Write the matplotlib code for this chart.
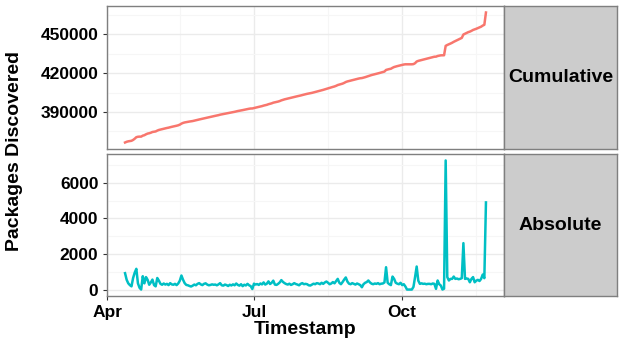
import numpy as np
import pandas as pd
import matplotlib
matplotlib.use('Agg')
import matplotlib.pyplot as plt
import matplotlib.dates as mdates
from matplotlib.ticker import AutoMinorLocator

# ==========================================
# data, daily from 2014-04-12
# ==========================================
start_date = '2014-04-12'
start_total = 365500
last_total = 467000   # the final cumulative point sits higher than the last daily count

absolute = [
    920, 550, 350, 250, 180, 650, 950, 1165, 350, 100,
    0, 750, 350, 700, 550, 270, 400, 560, 250, 180,
    650, 500, 320, 270, 340, 280, 320, 250, 360, 290,
    270, 320, 250, 340, 500, 790, 550, 360, 260, 240,
    200, 170, 220, 280, 240, 320, 360, 290, 250, 320,
    350, 280, 240, 260, 290, 270, 280, 240, 290, 360,
    240, 220, 280, 250, 200, 270, 230, 290, 240, 340,
    260, 220, 300, 190, 270, 230, 320, 240, 190, 30,
    330, 280, 310, 260, 340, 290, 400, 280, 330, 460,
    310, 380, 500, 280, 260, 320, 400, 530, 430, 360,
    310, 280, 330, 260, 300, 360, 310, 280, 240, 320,
    360, 300, 320, 300, 240, 225, 280, 330, 300, 360,
    340, 300, 380, 320, 400, 450, 380, 300, 340, 420,
    350, 480, 600, 380, 300, 420, 560, 680, 450, 330,
    300, 360, 320, 280, 340, 300, 250, 130, 300, 380,
    420, 510, 400, 330, 300, 340, 320, 360, 300, 330,
    340, 400, 1255, 380, 300, 250, 730, 600, 380, 330,
    300, 380, 250, 300, 170, 0, 0, 0, 0, 150,
    700, 1295, 500, 320, 350, 320, 330, 300, 320, 320,
    300, 340, 320, 40, 510, 300, 225, 0, 50, 7260,
    700, 510, 600, 600, 730, 600, 620, 580, 600, 640,
    2610, 600, 620, 600, 410, 600, 700, 410, 500, 545,
    480, 600, 845, 640, 4900,
]

panels = ['Cumulative', 'Absolute']
colors = ['#F8766D', '#00BFC4']

dates = pd.date_range(start_date, periods=len(absolute), freq='D')
cumulative = start_total + np.cumsum(absolute)
cumulative[-1] = last_total
series = [cumulative, np.array(absolute)]

# ==========================================
# layout in pixels (619 x 345)
# ==========================================
W, H = 619, 345
plt.rcParams['font.family'] = ['Liberation Sans', 'DejaVu Sans']
plt.rcParams['font.weight'] = 'bold'

fig = plt.figure(figsize=(W / 100, H / 100), dpi=100)

def rect(l, t, r, b):
    return [l / W, 1 - b / H, (r - l) / W, (b - t) / H]

ax_top = fig.add_axes(rect(107, 6, 504, 149))
ax_bot = fig.add_axes(rect(107, 154, 504, 296), sharex=ax_top)
strip_top = fig.add_axes(rect(504, 6, 617, 149))
strip_bot = fig.add_axes(rect(504, 154, 617, 296))

for ax, y, c in zip([ax_top, ax_bot], series, colors):
    ax.plot(dates, y, color=c, lw=1.8, solid_joinstyle='round')
    ax.set_facecolor('white')
    ax.set_axisbelow(True)
    ax.grid(which='major', color='#EBEBEB', lw=1.0)
    ax.grid(which='minor', color='#F6F6F6', lw=0.8)
    for sp in ax.spines.values():
        sp.set_color('#7F7F7F')
        sp.set_linewidth(1.0)
    ax.tick_params(axis='both', which='major', length=3, width=0.8,
                   color='#333333', labelsize=12.5, labelcolor='black')
    ax.tick_params(axis='y', which='major', pad=3.2)
    ax.tick_params(axis='x', which='major', pad=3.5)
    ax.tick_params(axis='both', which='minor', length=0)
    ax.yaxis.set_minor_locator(AutoMinorLocator(2))

ax_top.set_yticks([390000, 420000, 450000])
ax_bot.set_yticks([0, 2000, 4000, 6000])

ax_bot.xaxis.set_major_locator(mdates.MonthLocator(bymonth=[1, 4, 7, 10]))
ax_bot.xaxis.set_major_formatter(mdates.DateFormatter('%b'))
ax_bot.xaxis.set_minor_locator(mdates.MonthLocator(bymonth=[2, 5, 8, 11], bymonthday=16))
ax_top.tick_params(axis='x', which='both', length=0, labelbottom=False)

for s, name in zip([strip_top, strip_bot], panels):
    s.set_facecolor('#CCCCCC')
    s.set_xticks([])
    s.set_yticks([])
    for sp in s.spines.values():
        sp.set_color('#7F7F7F')
        sp.set_linewidth(1.0)
    s.text(0.5, 0.5, name, ha='center', va='center', fontsize=14,
           fontweight='bold', transform=s.transAxes)

fig.text(15 / W, 1 - 151 / H, 'Packages Discovered', rotation=90,
         ha='center', va='center', fontsize=14, fontweight='bold')
fig.text(305 / W, 1 - 330 / H, 'Timestamp', ha='center', va='center',
         fontsize=14, fontweight='bold')

fig.savefig('out.png', dpi=100)
